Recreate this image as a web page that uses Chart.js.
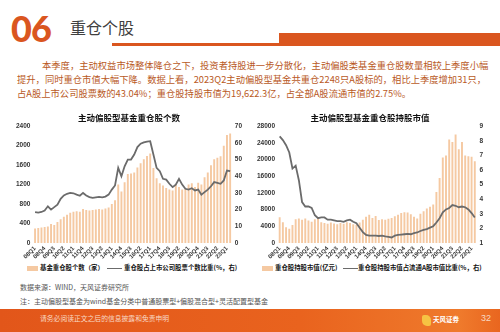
<!DOCTYPE html>
<html>
<head>
<meta charset="utf-8">
<script src="https://cdn.jsdelivr.net/npm/chart.js@4.4.0/dist/chart.umd.min.js"></script>
<style>
  html, body { margin: 0; padding: 0; background: #fff; }
  body { width: 500px; height: 332px; position: relative; overflow: hidden;
         font-family: "Noto Sans CJK SC", sans-serif; }
  .abs { position: absolute; }
  #num { left: 11px; top: 6px; font: 900 36px "Lato", sans-serif; color: #DA561F; letter-spacing: -1px; }
  #head { left: 70px; top: 15px; font-size: 16px; color: #404040; }
  #rule1 { left: 112px; top: 43px; width: 390px; height: 3px; background: #DA561F; }
  #rule2 { left: 279px; top: 33px; width: 221px; height: 13px; background: #DA561F; }
  .para { font-size: 9.3px; color: #B9591E; line-height: 14px; white-space: nowrap; }
  .just { text-align: justify; text-align-last: justify; }
  .note { font-size: 7px; color: #555; white-space: nowrap; }
  .leg { font-size: 6.4px; font-weight: bold; color: #111; white-space: nowrap; top: 263px; line-height: 10px; }
  .legBox { top: 266px; width: 11px; height: 5px; background: #F5C9A2; }
  .legLine { top: 267.5px; width: 15px; height: 1.8px; background: #6B6B6B; }
  #foot { left: 0; top: 309px; width: 500px; height: 23px;
          background: linear-gradient(90deg, #E2561A 0%, #E9631E 60%, #EF7A2C 92%, #E9661F 100%); }
  #footTxt { left: 40px; top: 313px; font-size: 6.8px; color: #F9D9C4; }
  #logo { left: 433px; top: 314px; font-size: 6.5px; color: #fff; font-weight: bold; }
  #logoMark { left: 422px; top: 315px; width: 9px; height: 11px; background: #F6C343; border-radius: 2px 5px 2px 5px; }
  #page { left: 481px; top: 313px; font: 9px "Liberation Sans", sans-serif; color: #F7D8C2; }
  canvas { position: absolute; }
</style>
</head>
<body>
<div id="num" class="abs">06</div>
<div id="head" class="abs">重仓个股</div>
<div id="rule1" class="abs"></div>
<div id="rule2" class="abs"></div>

<div class="abs para just" style="left:42px; top:58px; width:438px;">本季度，主动权益市场整体降仓之下，投资者持股进一步分散化，主动偏股类基金重仓股数量相较上季度小幅</div>
<div class="abs para just" style="left:17px; top:72px; width:466px;">提升，同时重仓市值大幅下降。数据上看，2023Q2主动偏股型基金共重仓2248只A股标的，相比上季度增加31只，</div>
<div class="abs para" style="left:17px; top:86px;">占A股上市公司股票数的43.04%；重仓股持股市值为19,622.3亿，占全部A股流通市值的2.75%。</div>

<canvas id="countChart" width="250" height="150" style="left:0; top:112px;"></canvas>
<canvas id="valueChart" width="250" height="150" style="left:250px; top:112px;"></canvas>

<!-- legends -->
<div class="abs legBox" style="left:27px;"></div>
<div class="abs leg" style="left:40px;">基金重仓股个数（家）</div>
<div class="abs legLine" style="left:107px;"></div>
<div class="abs leg" style="left:124px;">重仓股占上市公司股票个数比重(%，右)</div>
<div class="abs legBox" style="left:262px;"></div>
<div class="abs leg" style="left:275px;">重仓股持股市值(亿元)</div>
<div class="abs legLine" style="left:343px;"></div>
<div class="abs leg" style="left:358px;">重仓股持股市值占流通A股市值比重(%，右)</div>

<div class="abs note" style="left:20px; top:282px;">数据来源：WIND，天风证券研究所</div>
<div class="abs note" style="left:20px; top:296px;">注：主动偏股型基金为wind基金分类中普通股票型+偏股混合型+灵活配置型基金</div>

<div id="foot" class="abs"></div>
<div id="footTxt" class="abs">请务必阅读正文之后的信息披露和免责申明</div>
<div id="logoMark" class="abs"></div>
<div id="logo" class="abs">天风证券</div>
<div id="page" class="abs">32</div>

<script>
// quarters 08Q1 .. 23Q2
var quarters = [
  "08Q1","08Q2","08Q3","08Q4","09Q1","09Q2","09Q3","09Q4",
  "10Q1","10Q2","10Q3","10Q4","11Q1","11Q2","11Q3","11Q4",
  "12Q1","12Q2","12Q3","12Q4","13Q1","13Q2","13Q3","13Q4",
  "14Q1","14Q2","14Q3","14Q4","15Q1","15Q2","15Q3","15Q4",
  "16Q1","16Q2","16Q3","16Q4","17Q1","17Q2","17Q3","17Q4",
  "18Q1","18Q2","18Q3","18Q4","19Q1","19Q2","19Q3","19Q4",
  "20Q1","20Q2","20Q3","20Q4","21Q1","21Q2","21Q3","21Q4",
  "22Q1","22Q2","22Q3","22Q4","23Q1","23Q2"
];

// number of heavy-held stocks
var stockCount = [
  300, 310, 320, 330, 340, 390, 370, 430,
  490, 540, 580, 620, 640, 650, 640, 700,
  680, 670, 680, 690, 700, 690, 710, 730,
  800, 880, 1200, 1060, 1250, 1420, 1430, 1450,
  1550, 1640, 1720, 1790, 1840, 1540, 1330, 1230,
  1180, 1130, 1100, 1080, 1200, 1150, 1100, 1120,
  1200, 1230, 1150, 1240, 1200, 1350, 1450, 1600,
  1720, 1750, 1780, 2000, 2217, 2248
];

// share of all listed companies (%)
var countShare = [
  18.5, 18.2, 18.6, 19.5, 22.0, 20.0, 21.5, 23.0,
  26.5, 28.5, 29.5, 30.0, 29.8, 29.0, 28.3, 30.0,
  28.5, 27.5, 27.0, 27.3, 27.6, 27.4, 27.8, 29.0,
  32.0, 34.5, 45.0, 40.0, 46.0, 50.0, 50.0, 53.0,
  57.5, 59.5, 60.3, 60.8, 61.0, 53.0, 45.0, 43.0,
  38.5, 38.0, 35.5, 33.5, 35.0, 38.5, 35.0, 32.5,
  32.0, 32.8, 31.5, 32.0, 29.0, 30.5, 32.0, 34.0,
  36.5, 36.0, 35.5, 37.5, 43.4, 43.04
];

// market value of heavy holdings (100m yuan)
var holdValue = [
  6200, 5000, 3800, 3400, 4300, 5700, 5900, 5600,
  5900, 5400, 5100, 5700, 6000, 5000, 4800, 4600,
  4900, 4700, 4500, 4800, 4600, 5000, 4800, 4500,
  4400, 4900, 5600, 6300, 6800, 6000, 6500, 5500,
  5700, 5600, 5800, 6000, 6400, 6800, 7200, 7400,
  7300, 6900, 6300, 5900, 7000, 7600, 8300, 8700,
  9200, 12200, 15600, 20500, 21000, 24800, 24200, 26000,
  22500, 24200, 21000, 20800, 20700, 19622.3
];

// share of tradable A-share market value (%)
var valueShare = [
  8.30, 8.05, 7.70, 7.20, 6.10, 6.30, 5.30, 3.80,
  3.50, 3.50, 3.40, 2.90, 2.70, 2.75, 2.75, 2.60,
  2.60, 2.55, 2.50, 2.50, 2.45, 2.55, 2.60, 2.45,
  2.35, 2.05, 1.75, 1.55, 1.50, 1.50, 1.50, 1.48,
  1.50, 1.45, 1.42, 1.38, 1.50, 1.55, 1.58, 1.60,
  1.62, 1.60, 1.68, 1.72, 1.82, 1.90, 1.95, 2.05,
  2.15, 2.40, 2.70, 3.10, 3.30, 3.40, 3.60, 3.55,
  3.45, 3.50, 3.45, 3.30, 3.05, 2.75
];

Chart.defaults.font.family = '"Liberation Sans", "Noto Sans CJK SC", sans-serif';
Chart.defaults.color = '#333';

var barColor = '#F5C9A2';
var lineColor = '#6B6B6B';

function plain(v) { return String(v) }

// no grid, no tick marks; only labels
var bare = { display: false, drawTicks: false };

function makeChart(id, title, bars, line, leftAxis, rightAxis, pad) {
  var ctx = document.getElementById(id).getContext('2d');
  return new Chart(ctx, {
    type: 'bar',
    data: {
      labels: quarters,
      datasets: [{
        type: 'bar',
        data: bars,
        backgroundColor: barColor,
        barPercentage: 0.6,
        categoryPercentage: 1,
        yAxisID: 'y',
        order: 2
      }, {
        type: 'line',
        data: line,
        borderColor: lineColor,
        borderWidth: 1.8,
        pointRadius: 0,
        tension: 0,
        yAxisID: 'y1',
        order: 1
      }]
    },
    options: {
      responsive: false,
      animation: false,
      layout: { padding: pad },
      plugins: {
        title: {
          display: true,
          text: title,
          color: '#111',
          font: { size: 8.5, weight: 'bold', family: '"Noto Sans CJK SC", sans-serif' },
          padding: { top: 1, bottom: 3 }
        },
        legend: { display: false },
        tooltip: { enabled: false }
      },
      scales: {
        x: {
          grid: bare,
          border: { display: false },
          afterFit: function(scale) { scale.height = 19 },
          ticks: {
            autoSkip: false,
            maxRotation: 45,
            minRotation: 45,
            padding: 2,
            font: { size: 6, weight: 'bold' },
            callback: function(v, i) { return i % 3 === 0 ? quarters[i] : '' }
          }
        },
        y: {
          position: 'left',
          min: leftAxis[0], max: leftAxis[1],
          grid: bare,
          border: { display: false },
          ticks: { stepSize: leftAxis[2], font: { size: 6.5, weight: 'bold' }, padding: 3, callback: plain }
        },
        y1: {
          position: 'right',
          min: rightAxis[0], max: rightAxis[1],
          grid: bare,
          border: { display: false },
          ticks: { stepSize: rightAxis[2], font: { size: 6.5, weight: 'bold' }, padding: 3, callback: plain }
        }
      }
    }
  });
}

makeChart('countChart', '主动偏股型基金重仓股个数',
  stockCount, countShare, [0, 2400, 400], [0, 70, 10],
  { left: 13, right: 5, top: 0, bottom: 0 });

makeChart('valueChart', '主动偏股型基金重仓股持股市值',
  holdValue, valueShare, [0, 28000, 4000], [1, 9, 1],
  { left: 4, right: 14, top: 0, bottom: 0 });
</script>
</body>
</html>
